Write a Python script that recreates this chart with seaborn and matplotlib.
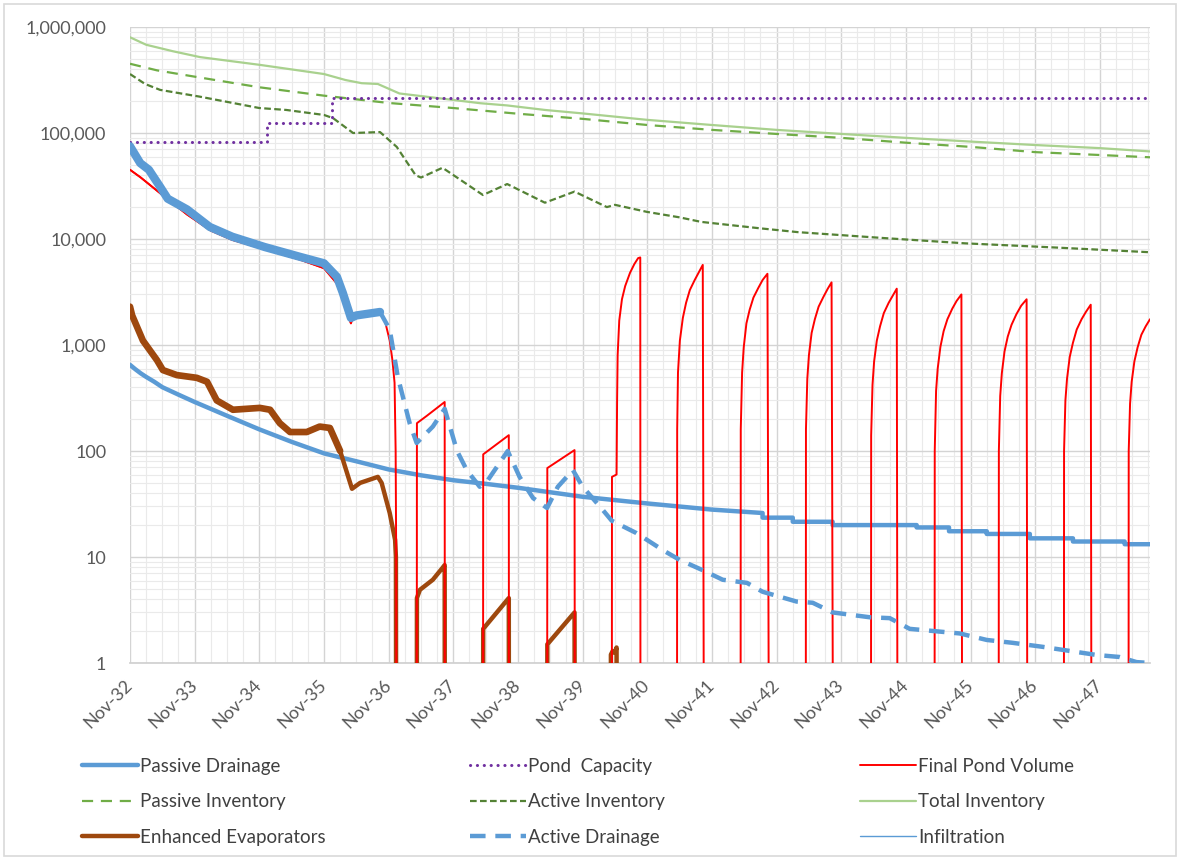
import numpy as np
import pandas as pd
import matplotlib
matplotlib.use("Agg")
import matplotlib.pyplot as plt
import seaborn as sns
from matplotlib.ticker import FixedLocator, LogLocator, FuncFormatter, NullFormatter
from matplotlib.patches import Rectangle

# x values are months after Nov-32
tick_months = [0, 12, 24, 36, 48, 60, 72, 84, 96, 108, 120, 132, 144, 156, 168, 180]
tick_labels = ["Nov-32", "Nov-33", "Nov-34", "Nov-35", "Nov-36", "Nov-37", "Nov-38", "Nov-39",
               "Nov-40", "Nov-41", "Nov-42", "Nov-43", "Nov-44", "Nov-45", "Nov-46", "Nov-47"]
x_end = 189.3

passive_drainage_m = [0, 1, 2, 3, 4.5, 6, 9, 12, 18, 24, 30, 36, 42, 48, 54, 60, 66, 72, 84, 96, 108, 117.4, 117.4,
                      123, 123, 130.4, 130.4, 146, 146, 152, 152, 159, 159, 167, 167, 175, 175, 184.6, 184.6, 189.3]
passive_drainage_v = [650, 590, 540, 500, 450, 400, 340, 290, 215, 160, 122, 95, 80, 67, 59, 53, 49, 45, 37, 32, 28,
                      26, 23.5, 23.5, 21.5, 21.5, 20, 20, 19, 19, 17.5, 17.5, 16.5, 16.5, 15, 15, 14, 14, 13.2, 13.2]

pond_capacity_m = [0, 25.4, 25.4, 37.5, 37.5, 189.3]
pond_capacity_v = [82000, 82000, 124000, 124000, 216000, 216000]

final_pond_m = [0, 2, 5.6, 10.6, 15, 19, 25, 31.5, 36, 38.4, 41, 41.4, 46.4, 47.3, 48.2, 48.7, 49.1, 49.3, 49.4, 49.5,
                53.2, 53.25, 55.1, 58.4, 58.45,
                65.5, 65.55, 70.3, 70.35,
                77.4, 77.45, 82.5, 82.6,
                89.4, 89.45, 90.3, 90.4, 90.5, 90.8, 91.3, 91.9, 92.8, 93.6, 94.3, 94.7, 94.75,
                101.5, 101.55, 101.7, 102.05, 102.6, 103.2, 103.9, 104.8, 105.6, 106.3, 106.6,
                113.3, 113.35, 113.6, 113.9, 114.4, 115.0, 115.7, 116.6, 117.4, 118.3, 118.7,
                125.4, 125.45, 125.7, 126.0, 126.5, 127.1, 127.8, 128.7, 129.5, 130.2, 130.6,
                137.5, 137.55, 137.8, 138.1, 138.6, 139.2, 139.9, 140.8, 141.6, 142.3, 142.5,
                149.3, 149.35, 149.6, 149.9, 150.4, 151.0, 151.7, 152.6, 153.4, 154.3, 154.5,
                161.2, 161.25, 161.5, 161.8, 162.3, 162.9, 163.6, 164.5, 165.4, 166.4, 166.6,
                173.3, 173.35, 173.6, 173.9, 174.4, 175.0, 175.7, 176.6, 177.4, 178.3, 178.5,
                185.3, 185.35, 185.6, 185.9, 186.4, 187.0, 187.7, 188.5, 189.3]
final_pond_v = [45000, 38000, 27000, 17000, 12000, 9800, 8000, 6400, 5300, 3800, 1600, 1850, 2100, 1700, 1100, 720, 440, 100, 11, 0,
                0, 183, 215, 290, 0,
                0, 93, 141, 0,
                0, 69, 102, 0,
                0, 57, 60, 300, 800, 1700, 2700, 3600, 4800, 5800, 6600, 6700, 0,
                0, 160, 550, 1100, 1800, 2500, 3300, 4100, 4900, 5700, 0,
                0, 160, 550, 950, 1600, 2150, 2800, 3450, 4100, 4700, 0,
                0, 160, 480, 800, 1300, 1750, 2300, 2850, 3400, 3900, 0,
                0, 140, 420, 700, 1100, 1500, 2000, 2500, 2950, 3400, 0,
                0, 100, 370, 600, 960, 1350, 1750, 2200, 2600, 3000, 0,
                0, 100, 330, 540, 870, 1200, 1550, 1950, 2350, 2700, 0,
                0, 100, 300, 480, 770, 1050, 1400, 1750, 2050, 2400, 0,
                0, 100, 280, 450, 700, 950, 1250, 1500, 1750]

passive_inventory_m = [0, 5, 12, 24, 36, 48, 60, 72, 84, 96, 108, 120, 132, 144, 156, 168, 180, 189.3]
passive_inventory_v = [450000, 390000, 340000, 270000, 225000, 192000, 172000, 152000, 136000, 119000, 107000,
                       98000, 90000, 81000, 74000, 66000, 62000, 59000]

active_inventory_m = [0, 2.8, 5.6, 13, 24, 29, 36, 37.7, 41.4, 46.4, 49.5, 53, 54, 58, 65.5, 70, 77, 82.5, 88.5,
                      90, 96, 102, 106, 117, 124, 140, 155, 172, 189.3]
active_inventory_v = [360000, 290000, 255000, 220000, 172000, 165000, 148000, 138000, 100000, 102000, 74000, 40000,
                      38000, 47000, 26000, 33000, 22000, 28000, 20000, 21000, 18000, 16000, 14500, 12600, 11600,
                      10200, 9100, 8300, 7500]

total_inventory_m = [0, 3, 8, 13, 24, 36, 40, 43, 46, 50, 55, 65, 70, 77, 84, 96, 108, 120, 132, 144, 156, 168, 180, 189.3]
total_inventory_v = [800000, 680000, 590000, 520000, 440000, 360000, 316000, 295000, 290000, 236000, 220000, 191000,
                     182000, 165000, 153000, 133000, 119000, 107000, 98000, 90000, 83000, 77000, 72000, 67000]

enhanced_evap_m = [0, 0.4, 2.4, 5, 6.1, 8.7, 12.4, 14.3, 16.1, 19.1, 24.1, 26, 27.8, 29.7, 32.8, 35.2, 37.1, 39, 41.2,
                   42.7, 46, 46.7, 48.2, 49.2, 49.35, 49.45,
                   53.2, 53.25, 53.8, 56.2, 58.0, 58.4, 58.45,
                   65.5, 65.55, 70.3, 70.35,
                   77.4, 77.45, 82.5, 82.6,
                   89.2, 89.25, 89.6, 90.0, 90.3, 90.35]
enhanced_evap_v = [2300, 1900, 1100, 720, 580, 520, 490, 450, 300, 245, 255, 245, 183, 151, 151, 170, 165, 100, 44,
                   50, 57, 50, 26, 14.5, 10, 0,
                   0, 4.1, 4.9, 6.1, 7.9, 8.4, 0,
                   0, 2.1, 4.1, 0,
                   0, 1.5, 3.0, 0,
                   0, 1.2, 1.3, 1.25, 1.4, 0]

active_drainage_m = [0, 1.9, 3.5, 5.6, 7, 10.6, 14.8, 19, 25, 31.5, 36, 38.4, 39.5, 41, 42, 46.4,
                     48.2, 49.7, 51.9, 53.2, 56.2, 58.4, 60.7, 62.5, 64.9, 66.4, 70.1, 72.3, 74.8, 77.4, 79.4,
                     82.2, 84, 87.2, 89.4, 94, 98.9, 102, 106.3, 110, 114.5, 117.4, 123.7, 126.7, 130.4, 137.3,
                     141, 144.7, 154, 159, 163.8, 169.4, 174.4, 179.4, 183.6, 186.8, 189.3]
active_drainage_v = [75000, 52000, 45000, 31000, 24000, 19000, 13000, 10500, 8400, 6800, 5900, 4400, 3100, 1800,
                     1900, 2050, 1400, 500, 183, 119, 170, 250, 100, 66, 46, 53, 100, 57, 36, 29, 46,
                     66, 46, 30, 22, 16.8, 11.6, 9.4, 7.5, 6.1, 5.7, 4.7, 3.8, 3.7, 3.0, 2.7,
                     2.65, 2.1, 1.9, 1.65, 1.55, 1.42, 1.3, 1.19, 1.14, 1.02, 1.0]

infiltration_m = [0, 189.3]
infiltration_v = [0, 0]

# ---------------------------------------------------------------
sns.set_theme(style="white")
plt.rcParams["font.family"] = ["Lato", "DejaVu Sans"]

W, H = 1181, 859
fig = plt.figure(figsize=(W / 100, H / 100), dpi=100)
ax = fig.add_axes([130 / W, 1 - 663 / H, 1020 / W, 636 / H])
ax.set_yscale("log")
ax.set_xlim(0, x_end)
ax.set_ylim(1, 1e6)

FLOOR = 1e-3  # zero values drawn below the axis


def draw(m, v, color, lw, dashes=None, capstyle="butt", zorder=3):
    df = pd.DataFrame({"m": np.asarray(m, float), "v": np.asarray(v, float)})
    df["v"] = df["v"].where(df["v"] > 0, FLOOR)
    sns.lineplot(data=df, x="m", y="v", ax=ax, color=color, lw=lw, sort=False,
                 estimator=None, legend=False, zorder=zorder)
    line = ax.lines[-1]
    line.set_solid_joinstyle("round")
    if dashes is not None:
        line.set_dashes(dashes)
        line.set_dash_capstyle(capstyle)
    return line


blue = "#5B9BD5"
h_inf = draw(infiltration_m, infiltration_v, blue, 1.0)
h_ti = draw(total_inventory_m, total_inventory_v, "#A9D18E", 1.6)
h_pi = draw(passive_inventory_m, passive_inventory_v, "#70AD47", 1.6, dashes=(5, 3.5))
h_ai = draw(active_inventory_m, active_inventory_v, "#548235", 1.6, dashes=(3, 1.5))
h_pc = draw(pond_capacity_m, pond_capacity_v, "#7030A0", 2.2, dashes=(0.05, 2.2), capstyle="round")
h_pd = draw(passive_drainage_m, passive_drainage_v, blue, 3.2)

# Enhanced evaporators: noisy early part renders as a thick band
ee_m = np.asarray(enhanced_evap_m)
ee_v = np.asarray(enhanced_evap_v)
j = int(np.searchsorted(ee_m, 39)) + 1
draw(ee_m[:j], ee_v[:j], "#9E480E", 4.8)
h_ee = draw(ee_m[j - 1:], ee_v[j - 1:], "#9E480E", 3.2)

h_fp = draw(final_pond_m, final_pond_v, "#FF0000", 1.4, zorder=4)

# Active drainage: noisy early part renders as a solid band, dashed afterwards
ad_m = np.asarray(active_drainage_m)
ad_v = np.asarray(active_drainage_v)
k = int(np.searchsorted(ad_m, 46.4)) + 1
draw(ad_m[:k], ad_v[:k], blue, 6.0, zorder=5)
h_ad = draw(ad_m[k - 1:], ad_v[k - 1:], blue, 3.2, dashes=(3.5, 2.2), zorder=5)
draw(final_pond_m[:12], final_pond_v[:12], "#FF0000", 1.2, zorder=4.5)

# axes styling
ax.xaxis.set_major_locator(FixedLocator(tick_months))
ax.xaxis.set_minor_locator(FixedLocator([m for m in np.arange(0, x_end, 3) if m % 12 != 0]))
ax.set_xticklabels(tick_labels)
ax.yaxis.set_major_locator(LogLocator(base=10, numticks=10))
ax.yaxis.set_minor_locator(LogLocator(base=10, subs=np.arange(2, 10), numticks=20))
ax.yaxis.set_minor_formatter(NullFormatter())
ax.yaxis.set_major_formatter(FuncFormatter(lambda v, p: f"{v:,.0f}"))
ax.grid(True, which="major", axis="both", color="#D4D4D4", lw=1.0, zorder=0)
ax.grid(True, which="minor", axis="both", color="#EAEAEA", lw=0.8, zorder=0)
ax.set_axisbelow(True)
for s in ["top", "right", "left"]:
    ax.spines[s].set_visible(False)
ax.spines["bottom"].set_color("#D0D0D0")
ax.tick_params(axis="x", which="major", direction="out", length=5, color="#D0D0D0", width=1,
               labelsize=13, labelcolor="#595959", pad=9)
ax.tick_params(axis="x", which="minor", length=0)
ax.tick_params(axis="y", which="both", length=0, labelsize=13, labelcolor="#595959", pad=17)
for lab in ax.get_xticklabels():
    lab.set_rotation(45)
    lab.set_ha("right")
    lab.set_va("center")
    lab.set_rotation_mode("anchor")
ax.set_xlabel("")
ax.set_ylabel("")

# legend in three columns
cols = [
    ([h_pd, h_pi, h_ee], ["Passive Drainage", "Passive Inventory", "Enhanced Evaporators"], 82),
    ([h_pc, h_ai, h_ad], ["Pond  Capacity", "Active Inventory", "Active Drainage"], 470),
    ([h_fp, h_ti, h_inf], ["Final Pond Volume", "Total Inventory", "Infiltration"], 860),
]
for handles, labels, xpx in cols:
    leg = fig.legend(handles, labels, loc="upper left", bbox_to_anchor=(xpx / W, 1 - 758 / H),
                     frameon=False, fontsize=13.5, handlelength=3.0, handletextpad=0.12,
                     labelspacing=0.98, borderpad=0, borderaxespad=0)
    for t in leg.get_texts():
        t.set_color("#404040")

fig.add_artist(Rectangle((4 / W, 3 / H), 1172 / W, 852 / H, transform=fig.transFigure,
                         fill=False, ec="#D9D9D9", lw=1.2))

fig.savefig("out.png", dpi=100)
